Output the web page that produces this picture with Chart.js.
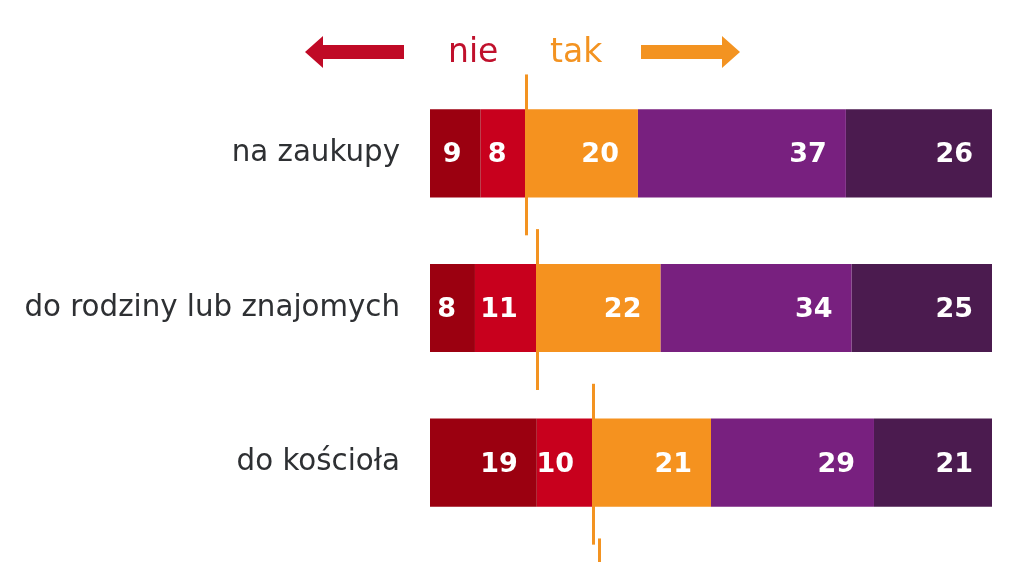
<!DOCTYPE html>
<html>
<head>
<meta charset="utf-8">
<script src="https://cdn.jsdelivr.net/npm/chart.js@4"></script>
<style>
  html, body { margin: 0; padding: 0; background: #fff; }
  #wrap { width: 1024px; height: 562px; }
</style>
</head>
<body>
<div id="wrap"><canvas id="myChart" width="1024" height="562"></canvas></div>
<script>
// categories and series (percent)
const labels = ['na zaukupy', 'do rodziny lub znajomych', 'do kościoła'];
const nieZdecydowanie = [9, 8, 19];
const nieRaczej = [8, 11, 10];
const takRaczej = [20, 22, 21];
const takRaczejBardzo = [37, 34, 29];
const takZdecydowanie = [26, 25, 21];
// divider of the next row, cut off at the bottom of the picture
const cutRowNie = 30;

const colors = ['#9b0010', '#c8001d', '#f5921f', '#78207f', '#4b1b4f'];
const orange = '#f39321';
const font = '"DejaVu Sans", sans-serif';

const data = {
    labels: labels,
    datasets: [nieZdecydowanie, nieRaczej, takRaczej, takRaczejBardzo, takZdecydowanie].map(function (vals, i) {
        return {
            data: vals,
            backgroundColor: colors[i],
            borderWidth: 0,
            categoryPercentage: 1,
            barPercentage: 0.57
        };
    })
};

// header: arrows with nie / tak
const header = {
    id: 'header',
    afterDraw: function (chart) {
        const ctx = chart.ctx;
        ctx.save();
        // left arrow
        ctx.fillStyle = '#c00a26';
        ctx.beginPath();
        ctx.moveTo(404, 45); ctx.lineTo(323, 45); ctx.lineTo(323, 36);
        ctx.lineTo(305, 52); ctx.lineTo(323, 68); ctx.lineTo(323, 59);
        ctx.lineTo(404, 59); ctx.closePath(); ctx.fill();
        // right arrow
        ctx.fillStyle = orange;
        ctx.beginPath();
        ctx.moveTo(641, 45); ctx.lineTo(722, 45); ctx.lineTo(722, 36);
        ctx.lineTo(740, 52); ctx.lineTo(722, 68); ctx.lineTo(722, 59);
        ctx.lineTo(641, 59); ctx.closePath(); ctx.fill();
        ctx.font = '33px ' + font;
        ctx.textBaseline = 'alphabetic';
        ctx.textAlign = 'left';
        ctx.fillStyle = '#c0102c';
        ctx.fillText('nie', 448, 62);
        ctx.fillStyle = orange;
        ctx.fillText('tak', 550, 62);
        ctx.restore();
    }
};

// orange dividers between nie and tak, plus value labels
const marks = {
    id: 'marks',
    afterDatasetsDraw: function (chart) {
        const ctx = chart.ctx;
        const x = chart.scales.x, y = chart.scales.y;
        const band = y.getPixelForValue(1) - y.getPixelForValue(0);
        const nie = labels.map(function (l, i) { return nieZdecydowanie[i] + nieRaczej[i]; });
        nie.push(cutRowNie);
        ctx.save();
        ctx.strokeStyle = orange;
        ctx.lineWidth = 3;
        nie.forEach(function (v, i) {
            const px = Math.round(x.getPixelForValue(v)) + 0.5;
            const cy = y.getPixelForValue(i);
            ctx.beginPath();
            ctx.moveTo(px, cy - band * 0.51);
            ctx.lineTo(px, cy + band * 0.53);
            ctx.stroke();
        });
        ctx.font = 'bold 27px ' + font;
        ctx.fillStyle = '#fff';
        ctx.textAlign = 'right';
        ctx.textBaseline = 'middle';
        chart.data.datasets.forEach(function (ds, d) {
            chart.getDatasetMeta(d).data.forEach(function (bar, i) {
                ctx.fillText(String(ds.data[i]), bar.x - 19, bar.y + 2);
            });
        });
        ctx.restore();
    }
};

const config = {
    type: 'bar',
    data: data,
    options: {
        indexAxis: 'y',
        responsive: false,
        animation: false,
        layout: { padding: { top: 76, bottom: 22, right: 32, left: 0 } },
        plugins: { legend: { display: false }, tooltip: { enabled: false } },
        scales: {
            x: { stacked: true, min: 0, max: 100, display: false },
            y: {
                stacked: true,
                grid: { display: false, drawTicks: true, tickLength: 30 },
                border: { display: false },
                ticks: { color: '#2e3033', font: { family: font, size: 29.3 }, padding: 0 },
                afterFit: function (scale) { scale.width = 430; }
            }
        }
    },
    plugins: [header, marks]
};

const myChart = new Chart(document.getElementById('myChart'), config);
</script>
</body>
</html>
